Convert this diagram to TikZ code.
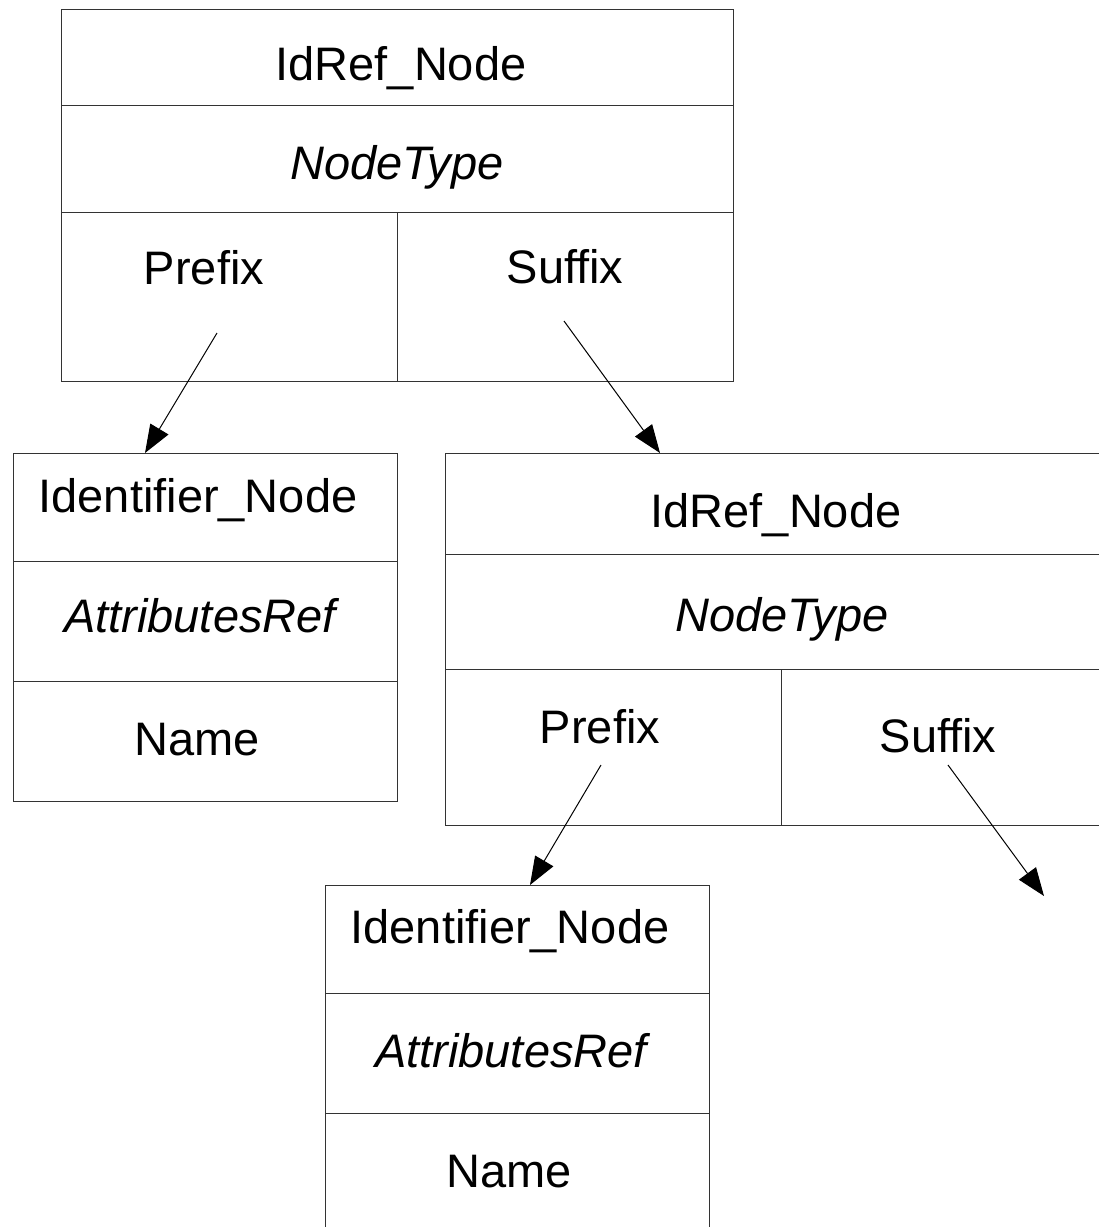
\documentclass[tikz,border=0pt]{standalone}
\usepackage{fontspec}
\setmainfont{Liberation Sans}[Ligatures={NoCommon}]
\usetikzlibrary{arrows.meta}
\begin{document}
\begin{tikzpicture}[x=1pt,y=-1pt,
  cell/.style={draw=black!80, line width=1.4pt, rectangle, inner sep=0pt, anchor=north west},
  lbl/.style={anchor=base, inner sep=0pt, font=\fontsize{47}{56}\selectfont},
  ilbl/.style={anchor=base, inner sep=0pt, font=\fontsize{47}{56}\selectfont\itshape},
  link/.style={draw=black, line width=1pt, -{Triangle[length=28pt,width=21pt]}}]
\useasboundingbox (0,0) rectangle (1099,1227);
\clip (0,0) rectangle (1099,1227);
% Box 1
\node[cell, minimum width=672pt, minimum height=96pt]  (b1a) at (61,9) {};
\node[cell, minimum width=672pt, minimum height=107pt] (b1b) at (61,105) {};
\node[cell, minimum width=336pt, minimum height=169pt] (b1c) at (61,212) {};
\node[cell, minimum width=336pt, minimum height=169pt] (b1d) at (397,212) {};
\node[lbl]  (t1a) at (401,80) {IdRef\_Node};
\node[ilbl] (t1b) at (397,179) {NodeType};
\node[lbl]  (t1c) at (204,284) {Prefix};
\node[lbl]  (t1d) at (565,283) {Suffix};
% Box 2
\node[cell, minimum width=384pt, minimum height=108pt] (b2a) at (13,453) {};
\node[cell, minimum width=384pt, minimum height=120pt] (b2b) at (13,561) {};
\node[cell, minimum width=384pt, minimum height=120pt] (b2c) at (13,681) {};
\node[lbl]  (t2a) at (198,512) {Identifier\_Node};
\node[ilbl] (t2b) at (200,632) {AttributesRef};
\node[lbl]  (t2c) at (197,755) {Name};
% Box 3
\node[cell, minimum width=680pt, minimum height=101pt] (b3a) at (445,453) {};
\node[cell, minimum width=680pt, minimum height=115pt] (b3b) at (445,554) {};
\node[cell, minimum width=336pt, minimum height=156pt] (b3c) at (445,669) {};
\node[cell, minimum width=344pt, minimum height=156pt] (b3d) at (781,669) {};
\node[lbl]  (t3a) at (776,527) {IdRef\_Node};
\node[ilbl] (t3b) at (782,631) {NodeType};
\node[lbl]  (t3c) at (600,743) {Prefix};
\node[lbl]  (t3d) at (938,752) {Suffix};
% Box 4
\node[cell, minimum width=384pt, minimum height=108pt] (b4a) at (325,885) {};
\node[cell, minimum width=384pt, minimum height=120pt] (b4b) at (325,993) {};
\node[cell, minimum width=384pt, minimum height=140pt] (b4c) at (325,1113) {};
\node[lbl]  (t4a) at (510,943) {Identifier\_Node};
\node[ilbl] (t4b) at (511,1067) {AttributesRef};
\node[lbl]  (t4c) at (509,1187) {Name};
% Connectors
\coordinate (s1) at (217,333);
\coordinate (e1) at (145,453);
\coordinate (s2) at (564,321);
\coordinate (e2) at (660,453);
\coordinate (s3) at (601,765);
\coordinate (e3) at (530,885);
\coordinate (s4) at (948,765);
\coordinate (e4) at (1044,896);
\draw[link] (s1) -- (e1);
\draw[link] (s2) -- (e2);
\draw[link] (s3) -- (e3);
\draw[link] (s4) -- (e4);
\end{tikzpicture}
\end{document}
